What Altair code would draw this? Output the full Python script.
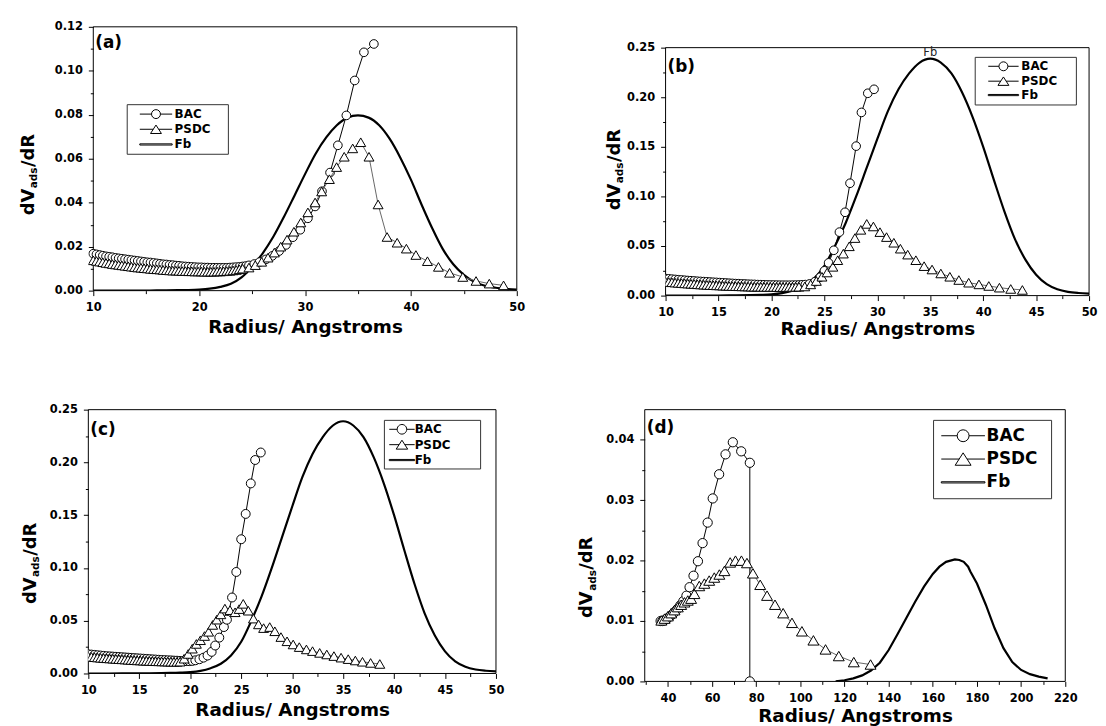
import math
import altair as alt
import pandas as pd

FONT = "DejaVu Sans"
XTITLE = "Radius/ Angstroms"
SERIES = ["BAC", "PSDC", "Fb"]

# ---------------- panel (a) ----------------
A_BAC_X = [10.0, 10.3, 10.6, 10.9, 11.2, 11.5, 11.8, 12.1, 12.4, 12.7, 13.0, 13.3, 13.6, 13.9, 14.2, 14.5, 14.8,
           15.1, 15.4, 15.7, 16.0, 16.3, 16.6, 16.9, 17.2, 17.5, 17.8, 18.1, 18.4, 18.7, 19.0, 19.3, 19.6, 19.9,
           20.2, 20.5, 20.8, 21.1, 21.4, 21.7, 22.0, 22.3, 22.6, 22.9, 23.2, 23.5, 23.8, 24.1, 24.4, 24.7,
           25.2, 25.7, 26.3, 26.9, 27.55, 28.2, 28.85, 29.55, 30.27, 30.95, 31.6, 32.36, 33.1, 33.9, 34.69, 35.56, 36.5]
A_BAC_Y = [.0168, .0165, .0162, .0159, .0156, .0154, .0152, .0149, .0147, .0145, .0143, .0141, .0139, .0137, .0135,
           .0133, .0131, .0129, .0128, .0126, .0124, .0122, .0120, .0119, .0117, .0116, .0114, .0113, .0111, .0110,
           .0109, .0108, .0107, .0106, .0106, .0105, .0105, .0104, .0104, .0104, .0104, .0104, .0104, .0105, .0106,
           .0107, .0108, .0110, .0112, .0115,
           .0121, .0130, .0142, .0158, .0180, .0208, .0243, .0277, .0329, .0383, .0452, .0537, .0661, .0797, .0956,
           .1084, .1122]
A_PSDC_X = [10.0, 10.3, 10.6, 10.9, 11.2, 11.5, 11.8, 12.1, 12.4, 12.7, 13.0, 13.3, 13.6, 13.9, 14.2, 14.5, 14.8,
            15.1, 15.4, 15.7, 16.0, 16.3, 16.6, 16.9, 17.2, 17.5, 17.8, 18.1, 18.4, 18.7, 19.0, 19.3, 19.6, 19.9,
            20.2, 20.5, 20.8, 21.1, 21.4, 21.7, 22.0, 22.3, 22.6, 22.9, 23.2, 23.5, 23.8, 24.1,
            24.7, 25.3, 25.9, 26.5, 27.1, 27.7, 28.3, 28.95, 29.6, 30.27, 30.95, 31.57, 32.3, 32.98, 33.7, 34.5,
            35.26, 36.04, 36.9, 37.75, 38.7, 39.57, 40.47, 41.56, 42.6, 43.65, 44.9, 46.15, 47.4, 48.75]
A_PSDC_Y = [.0138, .0135, .0132, .0129, .0126, .0124, .0121, .0119, .0117, .0115, .0113, .0111, .0109, .0107, .0105,
            .0104, .0102, .0101, .0099, .0098, .0097, .0096, .0094, .0093, .0092, .0091, .0091, .0090, .0089, .0089,
            .0088, .0088, .0087, .0087, .0087, .0086, .0086, .0086, .0086, .0087, .0087, .0088, .0089, .0090, .0092,
            .0094, .0097, .0100,
            .0105, .0116, .0131, .0150, .0173, .0200, .0232, .0268, .0310, .0356, .0401, .0451, .0507, .0562, .0609,
            .0647, .0675, .0609, .0392, .0244, .0218, .0191, .0162, .0134, .0108, .0081, .0062, .0044, .0032, .0024]
A_FB_X = [10, 12, 14, 16, 18, 19, 20, 21, 22, 23, 24, 25, 26, 27, 28, 29, 30, 31, 32, 33, 34, 35, 36, 37, 38, 39,
          40, 41, 42, 43, 44, 45, 46, 47, 48, 49, 50]
A_FB_Y = [0.0000, 0.0000, 0.0000, 0.0001, 0.0002, 0.0003, 0.0005, 0.0009, 0.0017, 0.0031, 0.0060, 0.0108, 0.0170,
          0.0245, 0.0335, 0.0432, 0.0530, 0.0623, 0.0697, 0.0752, 0.0787, 0.0797, 0.0787, 0.0752, 0.0690, 0.0605,
          0.0505, 0.0392, 0.0285, 0.0190, 0.0120, 0.0072, 0.0040, 0.0022, 0.0013, 0.0008, 0.0005]

# ---------------- panel (b) ----------------
B_BAC_X = [10.0, 10.3, 10.6, 10.9, 11.2, 11.5, 11.8, 12.1, 12.4, 12.7, 13.0, 13.3, 13.6, 13.9, 14.2, 14.5, 14.8,
           15.1, 15.4, 15.7, 16.0, 16.3, 16.6, 16.9, 17.2, 17.5, 17.8, 18.1, 18.4, 18.7, 19.0, 19.3, 19.6, 19.9,
           20.2, 20.5, 20.8, 21.1, 21.4, 21.7, 22.0, 22.3, 22.6, 22.9, 23.2,
           23.6, 24.1, 24.6, 25.0, 25.4, 25.89, 26.42, 26.95, 27.42, 28.0, 28.5, 29.1, 29.69]
B_BAC_Y = [.0172, .0169, .0166, .0163, .0160, .0158, .0155, .0152, .0150, .0148, .0145, .0143, .0141, .0139, .0137,
           .0135, .0133, .0131, .0129, .0127, .0125, .0123, .0121, .0120, .0118, .0117, .0115, .0114, .0113, .0111,
           .0110, .0109, .0108, .0107, .0107, .0106, .0105, .0105, .0105, .0105, .0106, .0106, .0107, .0109, .0111,
           .0118, .0140, .0185, .0250, .0330, .0457, .0640, .0840, .1133, .1507, .1847, .2040, .2080]
B_PSDC_X = [10.0, 10.3, 10.6, 10.9, 11.2, 11.5, 11.8, 12.1, 12.4, 12.7, 13.0, 13.3, 13.6, 13.9, 14.2, 14.5, 14.8,
            15.1, 15.4, 15.7, 16.0, 16.3, 16.6, 16.9, 17.2, 17.5, 17.8, 18.1, 18.4, 18.7, 19.0, 19.3, 19.6, 19.9,
            20.2, 20.5, 20.8, 21.1, 21.4, 21.7, 22.0, 22.3, 22.6,
            23.15, 23.7, 24.24, 24.77, 25.26, 25.8, 26.26, 26.79, 27.35, 27.88, 28.44, 29.0, 29.63, 30.25, 30.87,
            31.56, 32.18, 32.87, 33.64, 34.42, 35.17, 36.0, 36.85, 37.7, 38.63, 39.6, 40.53, 41.53, 42.6, 43.7]
B_PSDC_Y = [.0140, .0137, .0134, .0131, .0128, .0126, .0123, .0121, .0119, .0117, .0114, .0112, .0110, .0108, .0106,
            .0105, .0103, .0102, .0100, .0099, .0097, .0096, .0095, .0094, .0093, .0092, .0091, .0090, .0089, .0089,
            .0088, .0088, .0087, .0087, .0087, .0086, .0086, .0086, .0086, .0087, .0087, .0088, .0089,
            .0092, .0113, .0147, .0190, .0233, .0290, .0357, .0423, .0497, .0580, .0663, .0723, .0697, .0640, .0590,
            .0533, .0473, .0413, .0357, .0297, .0263, .0223, .0190, .0157, .0130, .0113, .0097, .0080, .0067, .0057]
B_FB_X = [10, 12, 14, 16, 18, 19, 20, 21, 22, 23, 24, 25, 26, 27, 28, 29, 30, 31, 32, 33, 34, 35, 36, 37, 38, 39,
          40, 41, 42, 43, 44, 45, 46, 47, 48, 49, 50]
B_FB_Y = [0.0000, 0.0000, 0.0001, 0.0002, 0.0005, 0.0008, 0.0013, 0.0025, 0.0050, 0.0092, 0.0170, 0.0300, 0.0500,
          0.0730, 0.1000, 0.1290, 0.1580, 0.1860, 0.2080, 0.2240, 0.2350, 0.2390, 0.2350, 0.2240, 0.2050, 0.1800,
          0.1500, 0.1170, 0.0850, 0.0570, 0.0360, 0.0210, 0.0115, 0.0064, 0.0038, 0.0026, 0.0020]
B_FB_LABEL_X = [35.0]
B_FB_LABEL_Y = [0.2443]

# ---------------- panel (c) ----------------
C_BAC_X = [10.0, 10.3, 10.6, 10.9, 11.2, 11.5, 11.8, 12.1, 12.4, 12.7, 13.0, 13.3, 13.6, 13.9, 14.2, 14.5, 14.8,
           15.1, 15.4, 15.7, 16.0, 16.3, 16.6, 16.9, 17.2, 17.5, 17.8, 18.1, 18.4, 18.7, 19.0, 19.3, 19.6, 19.9, 20.2,
           20.5, 20.9, 21.3, 21.7, 22.1, 22.45, 22.85, 23.3, 23.6, 24.1, 24.52, 25.0, 25.44, 25.94, 26.37, 26.92]
C_BAC_Y = [.0182, .0179, .0176, .0173, .0170, .0167, .0164, .0162, .0160, .0158, .0156, .0154, .0152, .0150, .0148,
           .0146, .0144, .0142, .0140, .0138, .0136, .0134, .0132, .0130, .0128, .0127, .0125, .0124, .0122, .0121,
           .0119, .0118, .0117, .0117, .0119,
           .0125, .0135, .0150, .0170, .0205, .0265, .0340, .0440, .0510, .0720, .0962, .1272, .1512, .1801, .2023,
           .2094]
C_PSDC_X = [10.0, 10.3, 10.6, 10.9, 11.2, 11.5, 11.8, 12.1, 12.4, 12.7, 13.0, 13.3, 13.6, 13.9, 14.2, 14.5, 14.8,
            15.1, 15.4, 15.7, 16.0, 16.3, 16.6, 16.9, 17.2, 17.5, 17.8, 18.1, 18.4, 18.7, 19.0,
            19.4, 19.8, 20.2, 20.6, 21.0, 21.4, 21.8, 22.2, 22.6, 23.0, 23.4, 23.9, 24.4, 24.8, 25.2, 25.7, 26.2,
            26.7, 27.2, 27.8, 28.3, 28.9, 29.5, 30.1, 30.7, 31.4, 32.0, 32.7, 33.4, 34.1, 34.8, 35.5, 36.2, 36.9,
            37.7, 38.6]
C_PSDC_Y = [.0160, .0157, .0154, .0151, .0148, .0146, .0144, .0142, .0140, .0138, .0136, .0134, .0132, .0130, .0128,
            .0126, .0124, .0123, .0121, .0120, .0118, .0117, .0116, .0115, .0114, .0113, .0112, .0111, .0110, .0110,
            .0112,
            .0140, .0185, .0235, .0280, .0315, .0355, .0395, .0460, .0510, .0560, .0615, .0600, .0580, .0610, .0660,
            .0595, .0520, .0465, .0430, .0440, .0400, .0345, .0305, .0275, .0250, .0228, .0212, .0195, .0180, .0165,
            .0150, .0136, .0123, .0111, .0100, .0090]
C_FB_X = B_FB_X
C_FB_Y = B_FB_Y

# ---------------- panel (d) ----------------
D_BAC_X = [36.7, 37.5, 38.3, 39.1, 40.0, 41.0, 42.0, 43.1, 44.3, 45.6, 47.0, 48.4, 49.8, 51.6, 53.6, 55.7, 58.0,
           60.3, 63.2, 66.1, 69.4, 73.2, 77.1, 77.1]
D_BAC_Y = [.0100, .0100, .0101, .0103, .0105, .0108, .0111, .0115, .0120, .0126, .0133, .0142, .0156, .0175, .0199,
           .0229, .0263, .0303, .0343, .0376, .0396, .0381, .0362, 0.0]
D_PSDC_X = [37.0, 38.5, 40.0, 41.5, 43.0, 44.5, 46.0, 47.5, 49.0, 50.5, 52.0, 54.2, 56.5, 58.7, 61.0, 63.3, 65.6,
            68.2, 70.6, 73.3, 75.8, 78.5, 81.8, 84.9, 88.5, 92.2, 96.2, 100.7, 105.9, 111.4, 117.4, 124.2, 131.8]
D_PSDC_Y = [.0101, .0104, .0108, .0113, .0118, .0123, .0127, .0131, .0134, .0137, .0145, .0158, .0162, .0167, .0172,
            .0177, .0183, .0197, .0200, .0200, .0196, .0179, .0160, .0142, .0127, .0113, .0097, .0083, .0068, .0053,
            .0042, .0032, .0028]
D_FB_X = [116, 120, 124, 128, 132, 136, 140, 144, 148, 152, 156, 160, 163, 166, 168, 170, 172, 174, 176, 177, 180,
          184, 188, 192, 196, 200, 204, 208, 212]
D_FB_Y = [.0000, .0002, .0005, .0010, .0018, .0031, .0052, .0078, .0105, .0132, .0157, .0178, .0190, .0198, .0200,
          .0202, .0201, .0198, .0190, .0182, .0162, .0127, .0088, .0055, .0032, .0019, .0012, .0008, .0005]

# ---------------- tick values ----------------
A_XTICKS = [10, 15, 20, 25, 30, 35, 40, 45, 50]
A_YTICKS = [0.00, 0.01, 0.02, 0.03, 0.04, 0.05, 0.06, 0.07, 0.08, 0.09, 0.10, 0.11, 0.12]
BC_XTICKS = [10, 12.5, 15, 17.5, 20, 22.5, 25, 27.5, 30, 32.5, 35, 37.5, 40, 42.5, 45, 47.5, 50]
BC_YTICKS = [0.0, 0.025, 0.05, 0.075, 0.10, 0.125, 0.15, 0.175, 0.20, 0.225, 0.25]
D_XTICKS = [30, 40, 50, 60, 70, 80, 90, 100, 110, 120, 130, 140, 150, 160, 170, 180, 190, 200, 210, 220]
D_YTICKS = [0.0, 0.005, 0.01, 0.015, 0.02, 0.025, 0.03, 0.035, 0.04]


def df_xy(xs, ys):
    pairs = list(zip(xs, ys))
    return pd.DataFrame({"x": [p[0] for p in pairs], "y": [p[1] for p in pairs], "i": list(range(len(pairs)))})


ONE = pd.DataFrame({"k": [0]})


def legend_paths(lg):
    E = max(math.ceil(math.sqrt(lg["S"]) + 1), lg["fs"])
    k = math.sqrt(lg["S"]) / 2.0
    s, Lh, rc, tw, th = lg["shift"], lg["Lh"], lg["rc"], lg["tw"], lg["th"]
    left_ext = -E / 2.0
    right_ext = lg["boxw"] - 2 * lg["pad"] - E / 2.0

    def u(v):
        return f"{v / k:.4f}"

    ext = f"M{u(left_ext)},0 M{u(right_ext)},0 "
    bac = ext + (f"M{u(s - Lh)},0 L{u(s - rc)},0 M{u(s + rc)},0 L{u(s + Lh)},0 "
                 f"M{u(s - rc)},0 A{u(rc)},{u(rc)} 0 1,1 {u(s + rc)},0 A{u(rc)},{u(rc)} 0 1,1 {u(s - rc)},0 Z")
    psdc = ext + (f"M{u(s - Lh)},0 L{u(s - tw / 2)},0 M{u(s + tw / 2)},0 L{u(s + Lh)},0 "
                  f"M{u(s)},{u(-th / 2)} L{u(s + tw)},{u(th / 2)} L{u(s - tw)},{u(th / 2)} Z")
    ft = 0.6
    fb = ext + (f"M{u(s - Lh)},{u(-ft)} L{u(s + Lh)},{u(-ft)} L{u(s + Lh)},{u(ft)} L{u(s - Lh)},{u(ft)} Z")
    return [bac, psdc, fb], E


def ytitle_layers(bx, y0):
    F, f = 18.0, 10.5
    w_dv = (0.716 + 0.774) * F
    w_ads = (0.675 + 0.716 + 0.595) * f
    base = dict(angle=270, align="left", baseline="alphabetic", font=FONT, fontWeight="bold", color="black")
    l1 = alt.Chart(ONE).mark_text(text="dV", fontSize=F, **base).encode(x=alt.value(bx), y=alt.value(y0))
    l2 = alt.Chart(ONE).mark_text(text="ads", fontSize=f, **base).encode(
        x=alt.value(bx + 3.5), y=alt.value(y0 - w_dv - 0.5))
    l3 = alt.Chart(ONE).mark_text(text="/dR", fontSize=F, **base).encode(
        x=alt.value(bx), y=alt.value(y0 - w_dv - w_ads - 1.0))
    return [l1, l2, l3]


def panel(g, bac, psdc, fb, fb_interp, extra_label=None):
    ox, oy = g["ox"], g["oy"]
    xs = alt.Scale(domain=g["xdom"], nice=False, zero=False)
    ys = alt.Scale(domain=g["ydom"], nice=False, zero=False)
    xax = alt.Axis(values=g["xticks"], labelExpr=f"({g['xtest']}) ? datum.label : ''",
                   tickSize={"condition": {"test": g["xtest"], "value": 5}, "value": 3}, domain=False,
                   title=XTITLE, titleY=g["xty"], titleX=ox + g["W"] / 2.0, titleBaseline="top")
    yax = alt.Axis(values=g["yticks"], labelExpr=f"({g['ytest']}) ? format(datum.value, '.2f') : ''",
                   tickSize={"condition": {"test": g["ytest"], "value": 5}, "value": 3}, domain=False,
                   offset=-ox, title=None)
    X = alt.X("x:Q", scale=xs, axis=xax)
    Y = alt.Y("y:Q", scale=ys, axis=yax)

    layers = []
    # plot frame (box) drawn along the axis ranges
    fx0, fx1 = g["frame_x"]
    fy0, fy1 = g["frame_y"]
    frame = pd.DataFrame({"x": [fx0, fx0, fx0, fx1], "x2": [fx1, fx1, fx0, fx1],
                          "y": [fy0, fy1, fy0, fy0], "y2": [fy0, fy1, fy1, fy1]})
    layers.append(alt.Chart(frame).mark_rule(color="black", strokeWidth=1).encode(
        x=X, x2="x2:Q", y=Y, y2="y2:Q"))
    layers.append(alt.Chart(df_xy(*fb)).mark_line(color="black", strokeWidth=2.2, interpolate=fb_interp,
                                                   clip=True).encode(x=X, y=Y))
    dbac = df_xy(*bac)
    dpsdc = df_xy(*psdc)
    layers.append(alt.Chart(dbac).mark_line(color="black", strokeWidth=1, clip=True).encode(
        x=X, y=Y, order=alt.Order("i:Q")))
    layers.append(alt.Chart(dbac).mark_point(shape="circle", filled=True, fill="white", stroke="black",
                                             strokeWidth=1, size=g["cs"], opacity=1, clip=True).encode(x=X, y=Y))
    layers.append(alt.Chart(dpsdc).mark_line(color="#666666", strokeWidth=1, clip=True).encode(
        x=X, y=Y, order=alt.Order("i:Q")))
    layers.append(alt.Chart(dpsdc).mark_point(shape="triangle-up", filled=True, fill="white", stroke="black",
                                              strokeWidth=1, size=g["ts"], opacity=1, clip=True).encode(x=X, y=Y))

    lg = g["legend"]
    paths, E = legend_paths(lg)
    leg_df = pd.DataFrame({"series": SERIES, "x": [None, None, None], "y": [None, None, None]})
    layers.append(alt.Chart(leg_df).mark_point(filled=False, color="black", strokeWidth=1, size=lg["S"],
                                               opacity=1).encode(
        x=X, y=Y,
        shape=alt.Shape("series:N", scale=alt.Scale(domain=SERIES, range=paths),
                        legend=alt.Legend(title=None, orient="none", legendX=lg["lx"] + ox, legendY=lg["ly"] + oy,
                                          direction="vertical", padding=lg["pad"], rowPadding=lg["rp"],
                                          symbolSize=lg["S"], symbolStrokeWidth=1, symbolStrokeColor="black",
                                          symbolOffset=0, labelOffset=lg["lo"], labelFont=FONT,
                                          labelFontWeight="bold", labelFontSize=lg["fs"], labelColor="black",
                                          strokeColor="#333333", fillColor="white"))))

    if extra_label is not None:
        lx, ly = extra_label
        layers.append(alt.Chart(pd.DataFrame({"x": lx, "y": ly})).mark_text(
            text="Fb", font=FONT, fontSize=11.5, color="#222222", align="center", baseline="middle").encode(
            x=X, y=Y))

    layers.append(alt.Chart(ONE).mark_text(text=g["tag"], font=FONT, fontWeight="bold", fontSize=17,
                                           color="black", align="left", baseline="middle").encode(
        x=alt.value(2 + ox), y=alt.value(g["tag_y"] + oy)))
    layers += ytitle_layers(g["ytx"] + ox, g["yty"] + oy)
    # invisible diagonal that fixes the panel's outer bounds for the grid layout
    layers.append(alt.Chart(ONE).mark_rule(color="transparent", strokeWidth=0.01).encode(
        x=alt.value(-g["L"]), x2=alt.value(g["R"]), y=alt.value(-g["T"]), y2=alt.value(g["B"])))
    return alt.layer(*layers).properties(width=g["W"] + ox, height=g["H"] + oy)


GA = dict(W=427, H=266, ox=5, oy=0, L=80, T=15, R=444, B=315,
          xdom=[10 - 5 / 10.675, 50], ydom=[0, 0.12], frame_x=(10, 50), frame_y=(0, 0.12),
          xticks=A_XTICKS, yticks=A_YTICKS, xtest="datum.value % 10 === 0",
          ytest="round(datum.value * 1000) % 20 === 0",
          xty=27, cs=76, ts=100, tag="(a)", tag_y=16.5, ytx=-60, yty=190,
          legend=dict(lx=33.7, ly=78, pad=3, S=169, rp=1.3, shift=19.5, Lh=16.3, rc=4.5, tw=5.5, th=8.5,
                      lo=31.3, fs=12, boxw=100))
GB = dict(W=427, H=250, ox=0, oy=21, L=91, T=15, R=433, B=315,
          xdom=[10, 50], ydom=[0, 0.25 + 21 / 1000.0], frame_x=(10, 50), frame_y=(0, 0.25),
          xticks=BC_XTICKS, yticks=BC_YTICKS, xtest="datum.value % 5 === 0",
          ytest="round(datum.value * 1000) % 50 === 0",
          xty=24, cs=76, ts=100, tag="(b)", tag_y=19.5, ytx=-46, yty=164,
          legend=dict(lx=311.7, ly=9.3, pad=3, S=144, rp=1, shift=19.45, Lh=15.3, rc=4.5, tw=5.5, th=8.5,
                      lo=31, fs=12, boxw=100))
GC = dict(W=411, H=266, ox=0, oy=0, L=80, T=15, R=422, B=318,
          xdom=[10, 50], ydom=[0, 0.25], frame_x=(10, 50), frame_y=(0, 0.25),
          xticks=BC_XTICKS, yticks=BC_YTICKS, xtest="datum.value % 5 === 0",
          ytest="round(datum.value * 1000) % 50 === 0",
          xty=27, cs=81, ts=100, tag="(c)", tag_y=21, ytx=-53, yty=196,
          legend=dict(lx=298, ly=10.3, pad=2.5, S=169, rp=1.5, shift=8.7, Lh=12.8, rc=4.8, tw=5.8, th=9,
                      lo=14.5, fs=12, boxw=94))
GD = dict(W=424, H=274, ox=0, oy=0, L=70, T=15, R=439, B=318,
          xdom=[29.5, 220], ydom=[0, 0.045], frame_x=(29.5, 220), frame_y=(0, 0.045),
          xticks=D_XTICKS, yticks=D_YTICKS, xtest="datum.value % 20 === 0",
          ytest="round(datum.value * 1000) % 10 === 0",
          xty=25, cs=87, ts=121, tag="(d)", tag_y=19, ytx=-53, yty=210,
          legend=dict(lx=290.7, ly=10.3, pad=7.5, S=256, rp=5.5, shift=14.3, Lh=22, rc=6, tw=8, th=12.5,
                      lo=29.5, fs=17, boxw=116.7))

pa = panel(GA, (A_BAC_X, A_BAC_Y), (A_PSDC_X, A_PSDC_Y), (A_FB_X, A_FB_Y), "monotone")
pb = panel(GB, (B_BAC_X, B_BAC_Y), (B_PSDC_X, B_PSDC_Y), (B_FB_X, B_FB_Y), "monotone",
           extra_label=(B_FB_LABEL_X, B_FB_LABEL_Y))
pc = panel(GC, (C_BAC_X, C_BAC_Y), (C_PSDC_X, C_PSDC_Y), (C_FB_X, C_FB_Y), "monotone")
pd_ = panel(GD, (D_BAC_X, D_BAC_Y), (D_PSDC_X, D_PSDC_Y), (D_FB_X, D_FB_Y), "linear")

chart = alt.concat(
    pa, pb, pc, pd_, columns=2, align="none", bounds="full",
    spacing={"row": 54, "column": 45},
    padding={"left": 0, "top": 0, "right": 0, "bottom": 0},
).resolve_scale(
    shape="independent"
).resolve_legend(
    shape="independent"
).configure(
    background="white", font=FONT
).configure_view(
    stroke="transparent"
).configure_axis(
    labelFont=FONT, labelFontWeight="bold", labelFontSize=11.5, labelColor="black", labelPadding=6,
    labelFlush=False, labelOverlap=False, tickColor="black", tickWidth=1,
    grid=False, titleFont=FONT, titleFontWeight="bold", titleFontSize=18.5, titleColor="black"
)

chart.save("out.html", embed_options={"renderer": "svg", "actions": False})
